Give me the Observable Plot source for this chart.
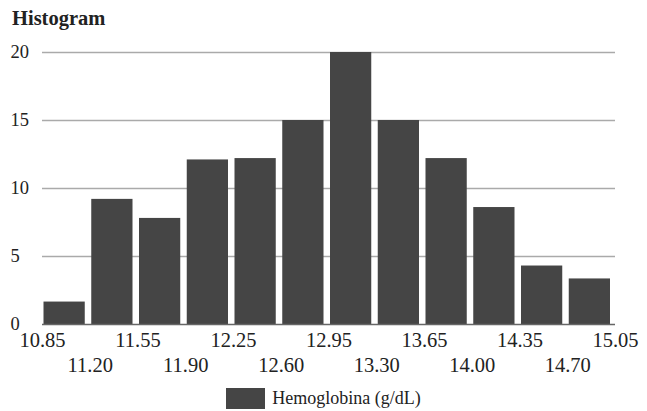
<!DOCTYPE html>
<html>
<head>
<meta charset="utf-8">
<script src="https://cdn.jsdelivr.net/npm/d3@7"></script>
<script src="https://cdn.jsdelivr.net/npm/@observablehq/plot@0.6"></script>
<style>
  body { margin: 0; background: #fff; font-family: "Liberation Serif", serif; color: #222; }
  #wrap { width: 647px; height: 411px; position: relative; overflow: hidden; }
  #title { height: 32px; box-sizing: border-box; padding: 4px 0 0 12px; line-height: 28px; font-weight: bold; font-size: 20.5px; }
  #legend { display: flex; justify-content: center; align-items: center; gap: 7px; font-size: 18px; height: 29px; padding-top: 2px; }
  #legend .sw { width: 39px; height: 21px; background: #454545; }
</style>
</head>
<body>
<div id="wrap">
  <div id="title">Histogram</div>
  <div id="chart"></div>
  <div id="legend"><span class="sw"></span><span>Hemoglobina (g/dL)</span></div>
</div>
<script>
const binEdges = [10.85, 11.20, 11.55, 11.90, 12.25, 12.60, 12.95, 13.30, 13.65, 14.00, 14.35, 14.70, 15.05];
const counts = [1.65, 9.2, 7.8, 12.1, 12.2, 15, 20, 15, 12.2, 8.6, 4.3, 3.35];
const yTicks = [0, 5, 10, 15, 20];
const seriesName = "Hemoglobina (g/dL)";

const bins = counts.map((c, i) => ({x1: binEdges[i], x2: binEdges[i + 1], count: c}));
const topRowTicks = binEdges.filter((d, i) => i % 2 === 0);
const bottomRowTicks = binEdges.filter((d, i) => i % 2 === 1);

const chart = Plot.plot({
  width: 647,
  height: 350,
  marginLeft: 42,
  marginRight: 32,
  marginTop: 20,
  marginBottom: 58,
  style: {fontFamily: "Liberation Serif, serif", color: "#222", background: "#fff"},
  x: {type: "linear", domain: [binEdges[0], binEdges[binEdges.length - 1]]},
  y: {domain: [0, 20]},
  marks: [
    Plot.ruleY(yTicks.filter(d => d > 0), {stroke: "#aaa", strokeWidth: 1.5}),
    Plot.rectY(bins, {x1: "x1", x2: "x2", y: "count", fill: "#454545", insetLeft: 1.5, insetRight: 5}),
    Plot.ruleY([0], {stroke: "#666", strokeWidth: 1.5}),
    Plot.axisY(yTicks, {tickSize: 0, tickPadding: 0, textAnchor: "start", dx: -32, fontSize: 18.5, label: null}),
    Plot.axisX(topRowTicks, {tickSize: 0, tickPadding: 8, fontSize: 20.5, tickFormat: d => d.toFixed(2), label: null}),
    Plot.axisX(bottomRowTicks, {tickSize: 0, tickPadding: 33, fontSize: 20.5, tickFormat: d => d.toFixed(2), label: null})
  ]
});
document.getElementById("chart").appendChild(chart);
</script>
</body>
</html>
